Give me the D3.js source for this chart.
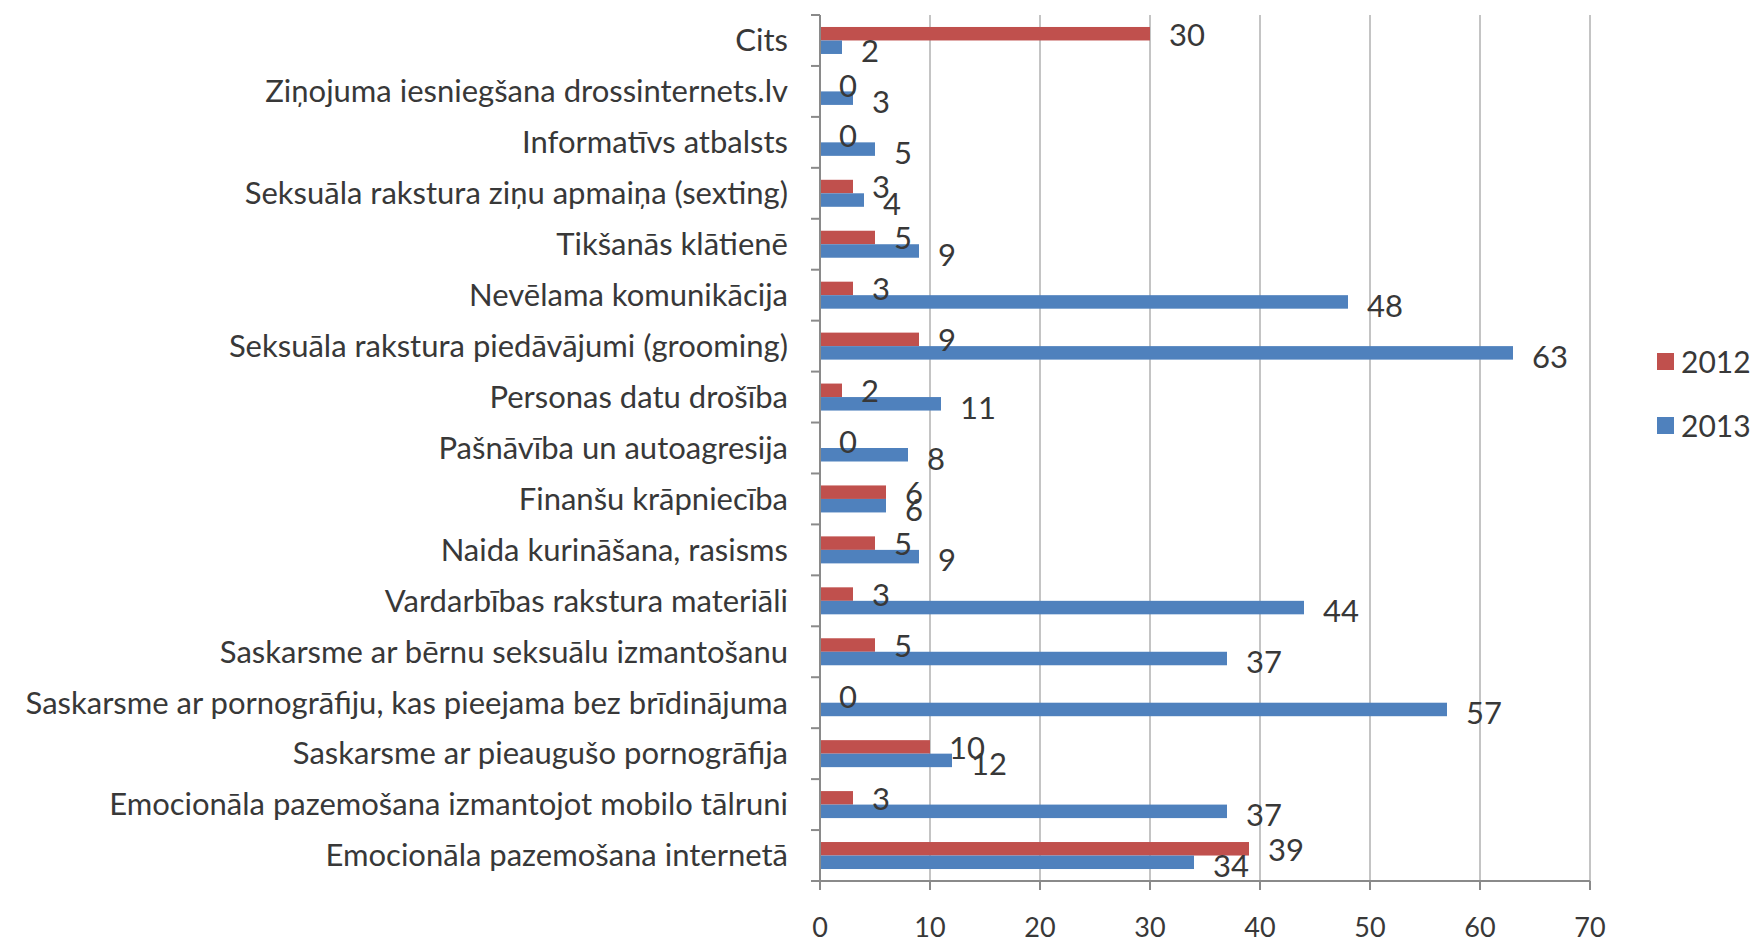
<!DOCTYPE html>
<html>
<head>
<meta charset="utf-8">
<script src="https://cdn.jsdelivr.net/npm/d3@7"></script>
<style>
  body { margin: 0; background: #fff; }
  text { font-family: Lato, "Open Sans", sans-serif; fill: #383838; }
</style>
</head>
<body>
<svg width="1758" height="943"></svg>
<script>
var categories = [
	"Cits",
	"Ziņojuma iesniegšana drossinternets.lv",
	"Informatīvs atbalsts",
	"Seksuāla rakstura ziņu apmaiņa (sexting)",
	"Tikšanās klātienē",
	"Nevēlama komunikācija",
	"Seksuāla rakstura piedāvājumi (grooming)",
	"Personas datu drošība",
	"Pašnāvība un autoagresija",
	"Finanšu krāpniecība",
	"Naida kurināšana, rasisms",
	"Vardarbības rakstura materiāli",
	"Saskarsme ar bērnu seksuālu izmantošanu",
	"Saskarsme ar pornogrāfiju, kas pieejama bez brīdinājuma",
	"Saskarsme ar pieaugušo pornogrāfija",
	"Emocionāla pazemošana izmantojot mobilo tālruni",
	"Emocionāla pazemošana internetā"
];
var values2012 = [30, 0, 0, 3, 5, 3, 9, 2, 0, 6, 5, 3, 5, 0, 10, 3, 39];
var values2013 = [2, 3, 5, 4, 9, 48, 63, 11, 8, 6, 9, 44, 37, 57, 12, 37, 34];
var years = ["2012", "2013"];
var xTicks = [0, 10, 20, 30, 40, 50, 60, 70];

var svg = d3.select("svg"),
	pLeft = 820, pRight = 1590, pTop = 15, pBottom = 881;

var color = d3.scaleOrdinal().domain(years).range(["#C0504D", "#4F81BD"]);

var x = d3.scaleLinear().domain([0, 70]).range([pLeft, pRight]);
var y = d3.scaleBand().domain(categories).range([pTop, pBottom])
	.paddingInner(0.47).paddingOuter(0.235);
var y1 = d3.scaleBand().domain(years).range([0, y.bandwidth()]);

var rows = categories.map(function(c, i) {
	return { cat: c, vals: [
		{ year: "2012", v: values2012[i] },
		{ year: "2013", v: values2013[i] }
	]};
});

// gridlines
svg.append("g").selectAll("line")
	.data(xTicks.slice(1))
	.enter().append("line")
	.attr("x1", function(d) { return x(d); })
	.attr("x2", function(d) { return x(d); })
	.attr("y1", pTop).attr("y2", pBottom)
	.attr("stroke", "#c4c4c4").attr("stroke-width", 2);

// bars
var grp = svg.append("g").selectAll("g")
	.data(rows)
	.enter().append("g")
	.attr("transform", function(d) { return "translate(0," + y(d.cat) + ")"; });

grp.selectAll("rect")
	.data(function(d) { return d.vals; })
	.enter().append("rect")
	.attr("x", x(0))
	.attr("y", function(d) { return y1(d.year); })
	.attr("width", function(d) { return x(d.v) - x(0); })
	.attr("height", y1.bandwidth())
	.attr("fill", function(d) { return color(d.year); });

grp.selectAll("text")
	.data(function(d) { return d.vals; })
	.enter().append("text")
	.attr("x", function(d) { return x(d.v) + 19; })
	.attr("y", function(d) { return y1(d.year) + y1.bandwidth() / 2 + (d.year == "2012" ? 1 : 4); })
	.attr("dy", "0.35em")
	.style("font-size", "31px")
	.text(function(d) { return d.v; });

// left axis
var ax = svg.append("g").attr("transform", "translate(" + pLeft + ",0)");
ax.append("line").attr("y1", pTop).attr("y2", pBottom).attr("stroke", "#8a8a8a").attr("stroke-width", 2);
var bounds = categories.map(function(c) { return y(c) - y.step() * y.paddingInner() / 2; });
bounds.push(pBottom);
ax.selectAll(".tk").data(bounds).enter().append("line")
	.attr("x1", -9).attr("x2", 0)
	.attr("y1", function(d) { return d; }).attr("y2", function(d) { return d; })
	.attr("stroke", "#8a8a8a").attr("stroke-width", 2);
ax.selectAll(".lbl").data(categories).enter().append("text")
	.attr("x", -32)
	.attr("y", function(d) { return y(d) + y.bandwidth() / 2; })
	.attr("dy", "0.35em")
	.attr("text-anchor", "end")
	.style("font-size", "31px")
	.text(function(d) { return d; });

// bottom axis
var bx = svg.append("g").attr("transform", "translate(0," + pBottom + ")");
bx.append("line").attr("x1", pLeft).attr("x2", pRight).attr("stroke", "#8a8a8a").attr("stroke-width", 2);
bx.selectAll(".tk").data(xTicks).enter().append("line")
	.attr("x1", function(d) { return x(d); }).attr("x2", function(d) { return x(d); })
	.attr("y1", 0).attr("y2", 9)
	.attr("stroke", "#8a8a8a").attr("stroke-width", 2);
bx.selectAll(".lbl").data(xTicks).enter().append("text")
	.attr("x", function(d) { return x(d); })
	.attr("y", 47)
	.attr("dy", "0.35em")
	.attr("text-anchor", "middle")
	.style("font-size", "27px")
	.text(function(d) { return d; });

// legend
var lg = svg.append("g").attr("transform", "translate(1657,353)");
var li = lg.selectAll("g").data(years).enter().append("g")
	.attr("transform", function(d, i) { return "translate(0," + i * 64 + ")"; });
li.append("rect").attr("width", 17).attr("height", 17).attr("fill", function(d) { return color(d); });
li.append("text").attr("x", 24).attr("y", 9).attr("dy", "0.35em")
	.style("font-size", "30px").text(function(d) { return d; });
</script>
</body>
</html>
